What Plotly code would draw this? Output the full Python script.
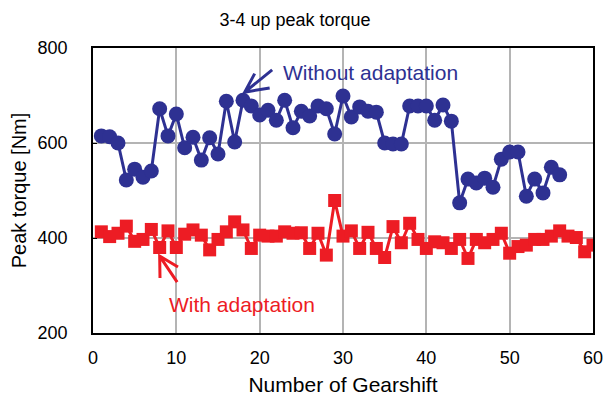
import plotly.graph_objects as go

# dados
shift_without = list(range(1, 57))
torque_without = [615, 613, 600, 522, 545, 528, 541, 672, 615, 661,
                  590, 612, 564, 611, 577, 688, 602, 690, 678, 659,
                  669, 648, 690, 632, 667, 657, 678, 672, 619, 699,
                  655, 676, 667, 665, 600, 598, 598, 678, 678, 678,
                  648, 680, 646, 474, 524, 516, 526, 507, 566, 581,
                  581, 488, 524, 495, 549, 533]

shift_with = list(range(1, 61))
torque_with = [413, 403, 410, 425, 393, 397, 418, 380, 415, 380,
               408, 417, 406, 375, 397, 413, 434, 417, 378, 406,
               404, 404, 413, 410, 411, 378, 410, 364, 479, 404,
               415, 378, 412, 378, 359, 424, 390, 431, 397, 378,
               392, 390, 378, 397, 357, 397, 390, 397, 410, 368,
               382, 385, 397, 397, 404, 415, 404, 401, 371, 385]

x_ticks = [0, 10, 20, 30, 40, 50, 60]
y_ticks = [200, 400, 600, 800]

BLUE = '#2e3192'
RED = '#ed1c24'
FONT = 'Liberation Sans, Arial, sans-serif'
W, H = 605, 403

fig = go.Figure()

fig.add_trace(go.Scatter(
    x=shift_without, y=torque_without, mode='lines+markers',
    line=dict(color=BLUE, width=3),
    marker=dict(symbol='circle', size=15, color=BLUE),
    name='Without adaptation',
))

fig.add_trace(go.Scatter(
    x=shift_with, y=torque_with, mode='lines+markers',
    line=dict(color=RED, width=3),
    marker=dict(symbol='square', size=13, color=RED),
    name='With adaptation',
))

# setas das anotações (cabeça aberta em V)
fig.add_shape(type='path', xref='x', yref='y',
              path='M 21.5,754 L 18.2,707 M 19.4,746 L 18.2,707 L 21.2,716',
              line=dict(color=BLUE, width=3))
fig.add_shape(type='path', xref='x', yref='y',
              path='M 10.1,307 L 8.0,362 M 8.04,316 L 8.0,362 L 10.2,339',
              line=dict(color=RED, width=3))

fig.add_annotation(x=22.6, y=749, xref='x', yref='y', text='Without adaptation',
                   showarrow=False, xanchor='left', yanchor='middle',
                   font=dict(family=FONT, size=21, color=BLUE))
fig.add_annotation(x=8.9, y=261, xref='x', yref='y', text='With adaptation',
                   showarrow=False, xanchor='left', yanchor='middle',
                   font=dict(family=FONT, size=21, color=RED))

fig.update_layout(
    width=W,
    height=H,
    margin=dict(l=93, r=12, t=48, b=70),
    paper_bgcolor='white',
    plot_bgcolor='white',
    showlegend=False,
    font=dict(family=FONT, color='black'),
    title=dict(text='3-4 up peak torque', x=295 / W, xref='container', xanchor='center',
               y=1 - 20 / H, yref='container', yanchor='middle',
               font=dict(family=FONT, size=18, color='black')),
    xaxis=dict(
        range=[0, 60], tickvals=x_ticks, showgrid=True, gridcolor='#b4b4b4', gridwidth=1.5,
        showline=True, linecolor='black', linewidth=1.5, mirror=True,
        ticks='', zeroline=False, automargin=False, ticklabeloverflow='allow',
        tickfont=dict(family=FONT, size=18), ticklabelstandoff=8,
        title=dict(text='Number of Gearshift', font=dict(family=FONT, size=21), standoff=10),
    ),
    yaxis=dict(
        range=[200, 800], tickvals=y_ticks, showgrid=True, gridcolor='#b4b4b4', gridwidth=1.5,
        showline=True, linecolor='black', linewidth=1.5, mirror=True,
        ticks='inside', ticklen=4, tickcolor='black', zeroline=False, automargin=False,
        tickfont=dict(family=FONT, size=18), ticklabelstandoff=20,
        title=dict(text='Peak torque [Nm]', font=dict(family=FONT, size=20), standoff=6),
    ),
)

# tira a margem padrão do body para a figura ocupar a janela toda
fig.write_html('out.html', config={'displayModeBar': False},
               post_script="document.body.style.margin='0';"
                           "document.body.style.overflow='hidden';")
